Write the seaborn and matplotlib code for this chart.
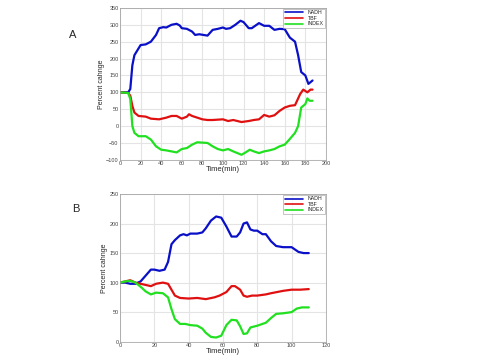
import numpy as np
import pandas as pd
import seaborn as sns
import matplotlib
matplotlib.use("Agg")
import matplotlib.pyplot as plt

# panel A
t_a = [0, 5, 8, 10, 12, 14, 17, 20, 25, 30, 35, 38, 42, 45, 50, 55, 58, 60, 65, 70, 73, 77, 85,
       90, 95, 100, 103, 107, 112, 117, 120, 125, 128, 135, 140, 145, 150, 155, 160, 165, 170,
       173, 176, 180, 183, 185, 187]
nadh_a = [100, 100, 100, 110, 180, 210, 225, 240, 242, 250, 270, 290, 293, 292, 300, 303, 298,
          290, 288, 280, 270, 272, 268, 285, 288, 292, 288, 290, 300, 312, 308, 290, 290, 305,
          297, 297, 285, 288, 287, 262, 250, 210, 160, 150, 125, 130, 135]
t_a2 = [0, 8, 10, 12, 14, 18, 25, 30, 38, 45, 50, 55, 60, 65, 67, 70, 75, 80, 85, 90, 100, 105,
        110, 118, 125, 130, 135, 140, 145, 150, 155, 160, 165, 170, 175, 178, 182, 185, 187]
tbf_a = [100, 98, 90, 60, 40, 30, 28, 22, 20, 25, 30, 30, 22, 28, 35, 30, 25, 20, 18, 18, 20, 15,
         18, 12, 15, 18, 20, 33, 28, 32, 45, 55, 60, 62, 95, 108, 100, 108, 108]
t_a3 = [0, 8, 10, 12, 14, 18, 25, 30, 35, 40, 45, 50, 55, 60, 65, 70, 75, 85, 90, 95, 100, 105,
        110, 118, 122, 126, 130, 135, 140, 145, 150, 155, 160, 165, 170, 173, 176, 180, 182, 184, 187]
index_a = [100, 98, 80, 0, -20, -30, -30, -40, -60, -70, -72, -75, -78, -68, -65, -55, -48, -50,
           -60, -68, -72, -68, -75, -85, -78, -70, -75, -80, -75, -72, -68, -60, -55, -38, -20,
           0, 55, 65, 82, 75, 75]

# panel B
t_b = [0, 3, 6, 9, 12, 15, 18, 20, 23, 26, 28, 30, 32, 35, 37, 39, 41, 45, 48, 50, 53, 56, 59,
       62, 65, 68, 70, 72, 74, 76, 78, 80, 83, 85, 88, 91, 95, 100, 104, 107, 110]
nadh_b = [100, 100, 98, 98, 102, 112, 122, 122, 120, 122, 135, 165, 172, 180, 182, 180, 183, 183,
          185, 192, 205, 212, 210, 195, 178, 178, 185, 200, 202, 190, 188, 188, 182, 182, 170,
          162, 160, 160, 152, 150, 150]
t_b2 = [0, 3, 6, 9, 12, 15, 18, 21, 25, 28, 30, 32, 35, 40, 45, 50, 55, 58, 62, 65, 67, 70, 72,
        74, 77, 80, 85, 88, 95, 100, 105, 110]
tbf_b = [100, 102, 104, 100, 98, 96, 94, 98, 100, 98, 88, 78, 74, 73, 74, 72, 75, 78, 84, 94, 94,
         88, 78, 76, 78, 78, 80, 82, 86, 88, 88, 89]
t_b3 = [0, 3, 6, 9, 12, 15, 18, 21, 25, 28, 30, 32, 35, 38, 41, 45, 48, 50, 53, 56, 59, 62, 65,
        68, 70, 72, 74, 76, 80, 85, 88, 91, 95, 100, 103, 106, 110]
index_b = [100, 102, 103, 100, 93, 85, 80, 83, 82, 75, 55, 38, 30, 30, 28, 27, 22, 15, 8, 7, 10,
           28, 37, 36, 26, 13, 14, 24, 27, 32, 40, 47, 48, 50, 56, 58, 58]

names = ["NADH", "TBF", "INDEX"]
colors = {"NADH": "#0a10c8", "TBF": "#e01010", "INDEX": "#20e020"}


def make_df(series):
    parts = []
    for name, (t, v) in zip(names, series):
        parts.append(pd.DataFrame({"Time": t, "value": v, "series": name}))
    return pd.concat(parts, ignore_index=True)


df_a = make_df([(t_a, nadh_a), (t_a2, tbf_a), (t_a3, index_a)])
df_b = make_df([(t_b, nadh_b), (t_b2, tbf_b), (t_b3, index_b)])

sns.set_style("whitegrid", {"grid.color": "#e4e4e4", "axes.edgecolor": "#999999"})
plt.rcParams["font.family"] = ["Arial", "Liberation Sans", "DejaVu Sans"]

fig = plt.figure(figsize=(4.8, 3.6), dpi=100)
ax1 = fig.add_axes([0.25, 0.556, 0.429, 0.422])
ax2 = fig.add_axes([0.25, 0.051, 0.429, 0.41])

for ax, df, xlim, ylim, yt in [
        (ax1, df_a, (0, 200), (-100, 350), range(-100, 351, 50)),
        (ax2, df_b, (0, 120), (0, 250), range(0, 251, 50))]:
    sns.lineplot(data=df, x="Time", y="value", hue="series", palette=colors,
                 linewidth=1.6, ax=ax, estimator=None, sort=False)
    ax.set_xlim(*xlim)
    ax.set_ylim(*ylim)
    ax.set_yticks(list(yt))
    ax.set_xticks(list(range(xlim[0], xlim[1] + 1, 20)))
    ax.tick_params(labelsize=4, length=0, pad=1, colors="#444444")
    ax.set_ylabel("Percent cahnge", fontsize=5, labelpad=1)
    ax.set_xlabel("Time(min)", fontsize=5.5, labelpad=0)
    for s in ax.spines.values():
        s.set_linewidth(0.5)
    leg = ax.legend(loc="upper right", fontsize=3.8, frameon=True, fancybox=False,
                    borderpad=0.3, handlelength=3.5, labelspacing=0.1,
                    borderaxespad=0.15, title=None)
    leg.get_frame().set_edgecolor("#999999")
    leg.get_frame().set_linewidth(0.5)
    for h in leg.get_lines():
        h.set_linewidth(1.2)

fig.text(73 / 480, 1 - 35 / 360, "A", fontsize=8, va="center", ha="center")
fig.text(76 / 480, 1 - 209 / 360, "B", fontsize=8, va="center", ha="center")

fig.savefig("out.png", dpi=100)
